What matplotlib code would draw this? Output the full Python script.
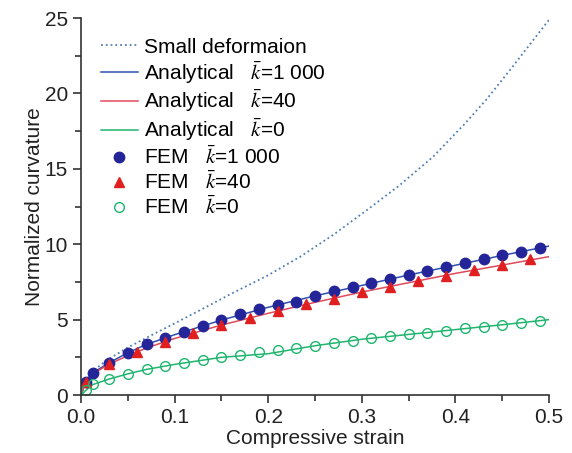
import numpy as np
import matplotlib
matplotlib.use('Agg')
import matplotlib.pyplot as plt
from matplotlib.ticker import MultipleLocator, FormatStrFormatter

plt.rcParams['font.family'] = ['Liberation Sans', 'DejaVu Sans']
plt.rcParams['mathtext.fontset'] = 'stix'

# small deformation (dotted)
small_x = [0, 0.005, 0.01, 0.02, 0.03, 0.05, 0.07, 0.1, 0.13, 0.16, 0.2, 0.234,
           0.27, 0.305, 0.34, 0.376, 0.41, 0.433, 0.46, 0.5]
small_y = [0, 0.9, 1.3, 1.95, 2.4, 3.15, 3.8, 4.75, 5.72, 6.7, 7.95, 9.17,
           10.65, 12.25, 13.9, 15.8, 18.0, 19.6, 21.7, 24.9]

# analytical curves
ana_x = [0, 0.005, 0.013, 0.03, 0.05, 0.07, 0.1, 0.15, 0.2, 0.25, 0.3, 0.35, 0.4, 0.45, 0.5]
ana_k1000 = [0, 0.88, 1.48, 2.14, 2.8, 3.36, 4.0, 4.97, 5.82, 6.58, 7.27, 7.96, 8.61, 9.26, 9.88]
ana_k40 = [0, 0.85, 1.4, 2.06, 2.6, 3.12, 3.75, 4.64, 5.42, 6.15, 6.83, 7.45, 8.07, 8.62, 9.18]
ana_k0 = [0, 0.3, 0.7, 1.06, 1.4, 1.7, 2.03, 2.5, 2.74, 3.27, 3.7, 4.02, 4.34, 4.66, 5.0]

# FEM points
fem_x = [0.005, 0.013] + [round(0.03 + 0.02 * i, 2) for i in range(24)]
fem_k1000 = [0.88, 1.48, 2.14, 2.8, 3.36, 3.8, 4.18, 4.6, 4.97, 5.35, 5.68, 5.95, 6.2,
             6.58, 6.9, 7.14, 7.4, 7.69, 7.96, 8.22, 8.47, 8.75, 9.0, 9.26, 9.5, 9.75]
fem_k0 = [0.3, 0.7, 1.06, 1.4, 1.7, 1.92, 2.14, 2.32, 2.5, 2.65, 2.83, 2.96, 3.12,
          3.27, 3.47, 3.6, 3.8, 3.91, 4.02, 4.13, 4.26, 4.42, 4.53, 4.66, 4.77, 4.93]
fem40_x = [0.005] + [round(0.03 * i, 2) for i in range(1, 17)]
fem_k40 = [0.85, 2.06, 2.87, 3.5, 4.1, 4.64, 5.13, 5.57, 6.01, 6.39, 6.83, 7.18,
           7.56, 7.91, 8.29, 8.62, 9.0]

fig = plt.figure(figsize=(5.72, 4.53), dpi=100)
ax = fig.add_axes([0.1416, 0.128, 0.8184, 0.832])

ax.plot(small_x, small_y, ':', color='#4f7fb5', lw=1.3, label='Small deformaion')
ax.plot(ana_x, ana_k1000, '-', color='#2f4fb0', lw=1.1, label=r'Analytical   $\bar{k}$=1 000')
ax.plot(ana_x, ana_k40, '-', color='#e04a5a', lw=1.1, label=r'Analytical   $\bar{k}$=40')
ax.plot(ana_x, ana_k0, '-', color='#1fb56f', lw=1.1, label=r'Analytical   $\bar{k}$=0')
ax.plot(fem_x, fem_k1000, 'o', color='#25259a', ms=7.5, ls='none', label=r'FEM   $\bar{k}$=1 000')
ax.plot(fem40_x, fem_k40, '^', color='#e02020', ms=7.5, ls='none', label=r'FEM   $\bar{k}$=40')
ax.plot(fem_x, fem_k0, 'o', mfc='none', mec='#1fb56f', mew=1.0, ms=7, ls='none',
        label=r'FEM   $\bar{k}$=0')

ax.set_xlim(0, 0.5)
ax.set_ylim(0, 25)
ax.xaxis.set_major_locator(MultipleLocator(0.1))
ax.xaxis.set_minor_locator(MultipleLocator(0.05))
ax.xaxis.set_major_formatter(FormatStrFormatter('%1.1f'))
ax.yaxis.set_major_locator(MultipleLocator(5))
ax.yaxis.set_minor_locator(MultipleLocator(2.5))

for s in ['top', 'right']:
    ax.spines[s].set_visible(False)
for s in ['left', 'bottom']:
    ax.spines[s].set_linewidth(1.2)
    ax.spines[s].set_color('#333333')
ax.tick_params(which='major', direction='out', length=6, width=1.2, labelsize=15,
               colors='#333333', labelcolor='#222222')
ax.tick_params(which='minor', direction='out', length=4, width=1.2, colors='#333333')

ax.set_xlabel('Compressive strain', fontsize=15, color='#222222', labelpad=1)
ax.set_ylabel('Normalized curvature', fontsize=15, color='#222222', labelpad=0)

leg = ax.legend(loc='upper left', bbox_to_anchor=(0.024, 0.97), frameon=False, fontsize=15,
                handlelength=1.8, handletextpad=0.3, labelspacing=0.1, borderaxespad=0.)

fig.savefig('out.png', dpi=100)
